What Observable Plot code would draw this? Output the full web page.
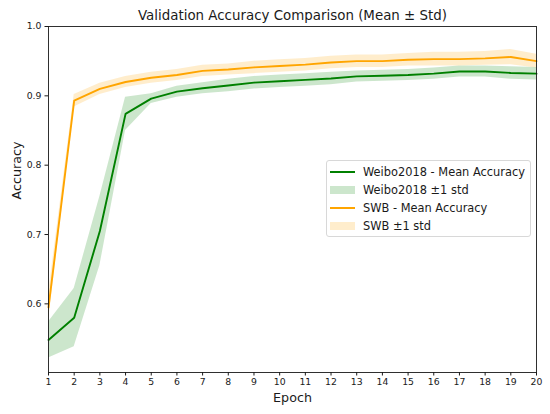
<!DOCTYPE html>
<html><head><meta charset="utf-8">
<script src="https://cdn.jsdelivr.net/npm/d3@7"></script>
<script src="https://cdn.jsdelivr.net/npm/@observablehq/plot@0.6"></script>
<style>
body{margin:0;background:#fff;font-family:"DejaVu Sans",sans-serif;}
#wrap{position:relative;width:550px;height:414px;}
.legend{position:absolute;left:326px;top:160px;width:205px;height:77px;border:1px solid #d8d8d8;border-radius:3px;background:rgba(255,255,255,0.8);box-sizing:border-box;font-size:11.4px;color:#1a1a1a;}
.row{position:absolute;left:3px;height:18px;display:flex;align-items:center;white-space:nowrap;}
.hl{width:25px;height:2px;margin-right:8px;}
.hp{width:25px;height:8px;margin-right:8px;}
</style>
</head><body>
<div id="wrap"></div>
<script>
const epochs = [1,2,3,4,5,6,7,8,9,10,11,12,13,14,15,16,17,18,19,20];
const weiboMean = [0.548,0.580,0.705,0.874,0.896,0.906,0.911,0.915,0.919,0.921,0.923,0.925,0.928,0.929,0.930,0.932,0.935,0.935,0.933,0.932];
const weiboStd  = [0.026,0.042,0.050,0.024,0.007,0.008,0.008,0.009,0.009,0.009,0.009,0.009,0.008,0.008,0.008,0.008,0.008,0.008,0.009,0.009];
const swbMean   = [0.595,0.893,0.910,0.920,0.926,0.930,0.936,0.938,0.941,0.943,0.945,0.948,0.950,0.950,0.952,0.953,0.953,0.954,0.956,0.950];
const swbStd    = [0.020,0.009,0.008,0.008,0.008,0.008,0.008,0.008,0.009,0.009,0.009,0.009,0.009,0.009,0.009,0.010,0.010,0.010,0.011,0.010];
const yTicks = [0.6,0.7,0.8,0.9,1.0];
const titleText = "Validation Accuracy Comparison (Mean ± Std)";
const xLabel = "Epoch", yLabel = "Accuracy";
const legendItems = [
  {label:"Weibo2018 - Mean Accuracy", kind:"line", color:"green"},
  {label:"Weibo2018 ±1 std", kind:"patch", color:"#cce6cc"},
  {label:"SWB - Mean Accuracy", kind:"line", color:"orange"},
  {label:"SWB ±1 std", kind:"patch", color:"#ffedcc"}
];

const weibo = epochs.map((e,i)=>({epoch:e, mean:weiboMean[i], lo:weiboMean[i]-weiboStd[i], hi:weiboMean[i]+weiboStd[i]}));
const swb = epochs.map((e,i)=>({epoch:e, mean:swbMean[i], lo:swbMean[i]-swbStd[i], hi:swbMean[i]+swbStd[i]}));

const chart = Plot.plot({
  width:550, height:414,
  marginLeft:48, marginRight:14, marginTop:26, marginBottom:42,
  style:{fontFamily:"DejaVu Sans", fontSize:"9.3px", color:"#1a1a1a", background:"#fff"},
  x:{domain:[1,20], ticks:epochs, tickFormat:d=>String(d), tickSize:3.5, tickPadding:2.5, label:null},
  y:{domain:[0.501,1.0], ticks:yTicks, tickFormat:d3.format(".1f"), tickSize:3.5, tickPadding:3.5, label:null},
  marks:[
    Plot.line(weibo,{x:"epoch", y:"mean", stroke:"green", strokeWidth:1.9}),
    Plot.areaY(weibo,{x:"epoch", y1:"lo", y2:"hi", fill:"green", fillOpacity:0.2}),
    Plot.line(swb,{x:"epoch", y:"mean", stroke:"orange", strokeWidth:1.9}),
    Plot.areaY(swb,{x:"epoch", y1:"lo", y2:"hi", fill:"orange", fillOpacity:0.2}),
    Plot.frame({stroke:"#1a1a1a", strokeWidth:0.9}),
    Plot.text([titleText],{text:d=>d, frameAnchor:"top", dy:-11, lineAnchor:"middle", fontSize:13.4, fill:"#1a1a1a"}),
    Plot.text([xLabel],{text:d=>d, frameAnchor:"bottom", dy:25, lineAnchor:"middle", fontSize:12.7, fill:"#1a1a1a"}),
    Plot.text([yLabel],{text:d=>d, frameAnchor:"left", dx:-32, rotate:-90, lineAnchor:"middle", fontSize:12.7, fill:"#1a1a1a"})
  ]
});
const wrap = document.getElementById("wrap");
wrap.appendChild(chart);

const leg = document.createElement("div");
leg.className = "legend";
const rowTops = [1.5, 19.7, 37.9, 56.1];
legendItems.forEach((it,i)=>{
  const r = document.createElement("div");
  r.className = "row";
  r.style.top = rowTops[i]+"px";
  const h = document.createElement("div");
  h.className = it.kind==="line" ? "hl" : "hp";
  h.style.background = it.color;
  const t = document.createElement("span");
  t.textContent = it.label;
  r.appendChild(h); r.appendChild(t);
  leg.appendChild(r);
});
wrap.appendChild(leg);
</script>
</body></html>
